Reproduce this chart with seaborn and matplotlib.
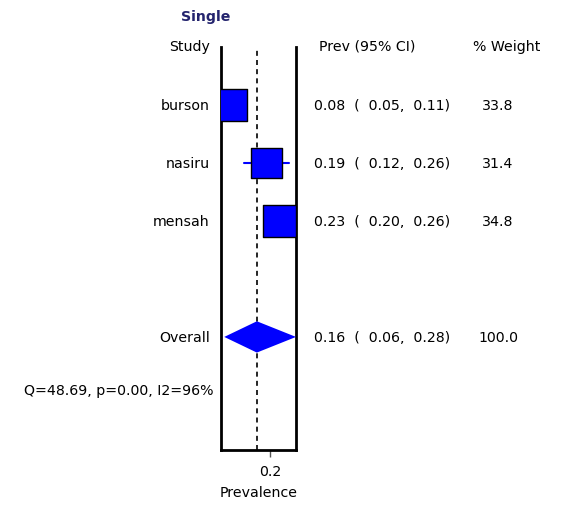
import matplotlib
matplotlib.use("Agg")
import matplotlib.pyplot as plt
import matplotlib.transforms as mtransforms
import seaborn as sns
import pandas as pd
import numpy as np

studies = ["burson", "nasiru", "mensah"]
prev = [0.08, 0.19, 0.23]
ci_low = [0.05, 0.12, 0.20]
ci_high = [0.11, 0.26, 0.26]
weights = [33.8, 31.4, 34.8]
rows = [1, 2, 3]

overall_label = "Overall"
overall_prev = 0.16
overall_low = 0.06
overall_high = 0.28
overall_weight = 100.0
overall_row = 5

het_text = "Q=48.69, p=0.00, I2=96%"

sns.set_style("white")
plt.rcParams["font.family"] = ["DejaVu Sans"]
plt.rcParams["text.color"] = "black"
plt.rcParams["axes.labelcolor"] = "black"
plt.rcParams["xtick.color"] = "black"
fs = 10.2

fig = plt.figure(figsize=(5.63, 5.06), dpi=100)
ax = fig.add_axes([221 / 563, 1 - 451 / 506, 75 / 563, 403 / 506])

df = pd.DataFrame({"study": studies, "prev": prev, "lo": ci_low,
                   "hi": ci_high, "w": weights, "row": rows})

# confidence intervals
for _, r in df.iterrows():
    ax.plot([r.lo, r.hi], [r.row, r.row], color="#0000ff", lw=1.5, zorder=2)

# weighted squares
sns.scatterplot(data=df, x="prev", y="row", marker="s", s=df["w"] * 15.8,
                color="#0000ff", edgecolor="black", linewidth=1, ax=ax,
                zorder=3, legend=False)

# pooled diamond
h = 0.27
ax.fill([overall_low, overall_prev, overall_high, overall_prev],
        [overall_row, overall_row - h, overall_row, overall_row + h],
        color="#0000ff", lw=0, zorder=3)

ax.axvline(overall_prev, color="black", lw=1.2, ls=(0, (3, 2.5)), zorder=1)

ax.set_xlim(0.05, 0.28)
ax.set_ylim(6.95, 0)
ax.set_xticks([0.2])
ax.set_xticklabels(["0.2"], fontsize=fs)
ax.set_yticks([])
ax.set_xlabel("Prevalence", fontsize=fs, labelpad=5)
ax.set_ylabel("")
ax.tick_params(axis="x", bottom=True, length=5, width=1, color="#555555",
               labelcolor="black", pad=5)
for side in ["left", "right", "bottom"]:
    ax.spines[side].set_visible(True)
    ax.spines[side].set_linewidth(2)
    ax.spines[side].set_color("black")
ax.spines["top"].set_visible(False)

tr = mtransforms.blended_transform_factory(fig.transFigure, ax.transData)
xs = 210 / 563
xp = 314 / 563
xw = 498 / 563

fig.text(206 / 563, 1 - 17 / 506, "Single", ha="center", va="center",
         fontsize=fs, fontweight="bold", color="#24246e")
ax.text(xs, -0.02, "Study", transform=tr, ha="right", va="center", fontsize=fs, clip_on=False)
ax.text(319 / 563, -0.02, "Prev (95% CI)", transform=tr, ha="left", va="center", fontsize=fs, clip_on=False)
ax.text(507 / 563, -0.02, "% Weight", transform=tr, ha="center", va="center", fontsize=fs, clip_on=False)

for _, r in df.iterrows():
    ax.text(xs, r.row, r.study, transform=tr, ha="right", va="center", fontsize=fs, clip_on=False)
    ax.text(xp, r.row, f"{r.prev:.2f}  (  {r.lo:.2f},  {r.hi:.2f})", transform=tr,
            ha="left", va="center", fontsize=fs, clip_on=False)
    ax.text(xw, r.row, f"{r.w:.1f}", transform=tr, ha="center", va="center", fontsize=fs, clip_on=False)

ax.text(xs, overall_row, overall_label, transform=tr, ha="right", va="center", fontsize=fs, clip_on=False)
ax.text(xp, overall_row, f"{overall_prev:.2f}  (  {overall_low:.2f},  {overall_high:.2f})",
        transform=tr, ha="left", va="center", fontsize=fs, clip_on=False)
ax.text(xw, overall_row, f"{overall_weight:.1f}", transform=tr, ha="center", va="center",
        fontsize=fs, clip_on=False)
ax.text(213 / 563, 5.92, het_text, transform=tr, ha="right", va="center", fontsize=fs, clip_on=False)

fig.savefig("out.png", dpi=100)
